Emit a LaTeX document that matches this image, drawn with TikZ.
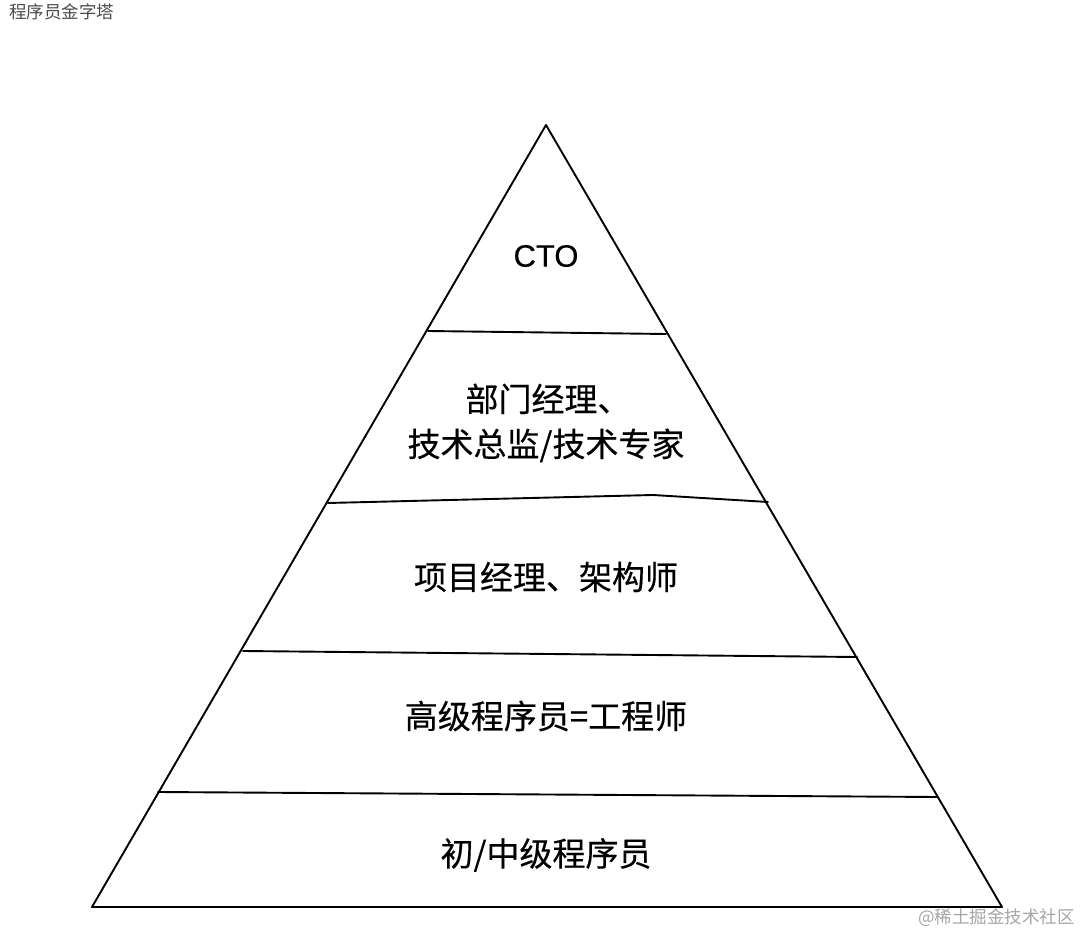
\documentclass[tikz,border=0pt]{standalone}
\usepackage{fontspec}
\newfontfamily\cjk[FakeBold=0.4]{Noto Sans CJK SC}
\newfontfamily\cjklight{Noto Sans CJK SC}
\newfontfamily\latin[FakeBold=0.4]{Liberation Sans}
\setmainfont{Noto Sans CJK SC}
\tikzset{
  edge/.style={line width=1.9pt, line join=round, line cap=round},
  tier/.style={font=\cjk\fontsize{33}{44}\selectfont, align=center, inner sep=0pt},
  title/.style={font=\cjklight\fontsize{17.5}{20}\selectfont, text=black!70, anchor=west, inner sep=0pt}
}
\begin{document}
\begin{tikzpicture}[x=1pt,y=-1pt]
\useasboundingbox (0,0) rectangle (1080,936);
\fill[white] (0,0) rectangle (1080,936);
% outline
\coordinate (apex) at (546,125);
\coordinate (bl) at (92,907);
\coordinate (br) at (1002,907);
\draw[edge] (apex) -- (bl) -- (br) -- cycle;
% dividers
\coordinate (l1a) at (428,331); \coordinate (l1b) at (666,334);
\coordinate (l2a) at (328,503); \coordinate (l2k) at (653,495); \coordinate (l2b) at (768,502);
\coordinate (l3a) at (243,651); \coordinate (l3b) at (857,657);
\coordinate (l4a) at (158,792); \coordinate (l4b) at (937,797);
\draw[edge] (l1a) -- (l1b);
\draw[edge] (l2a) -- (l2k) -- (l2b);
\draw[edge] (l3a) -- (l3b);
\draw[edge] (l4a) -- (l4b);
% labels
\node[tier, font=\latin\fontsize{31}{40}\selectfont] (cto) at (546,256) {CTO};
\node[tier] (mgr) at (546,423) {\hspace*{4pt}部门经理、\\[1pt]技术总监/技术专家};
\node[tier] (pm) at (546,577) {项目经理、架构师};
\node[tier] (sr) at (546,716) {高级程序员=工程师};
\node[tier] (jr) at (546,855) {初/中级程序员};
% title and watermark
\node[title] (ttl) at (9,12) {程序员金字塔};
\node[font=\cjklight\fontsize{17.5}{18}\selectfont, text=black!35, anchor=east, inner sep=0pt] (wm) at (1075,918) {@稀土掘金技术社区};
\end{tikzpicture}
\end{document}
